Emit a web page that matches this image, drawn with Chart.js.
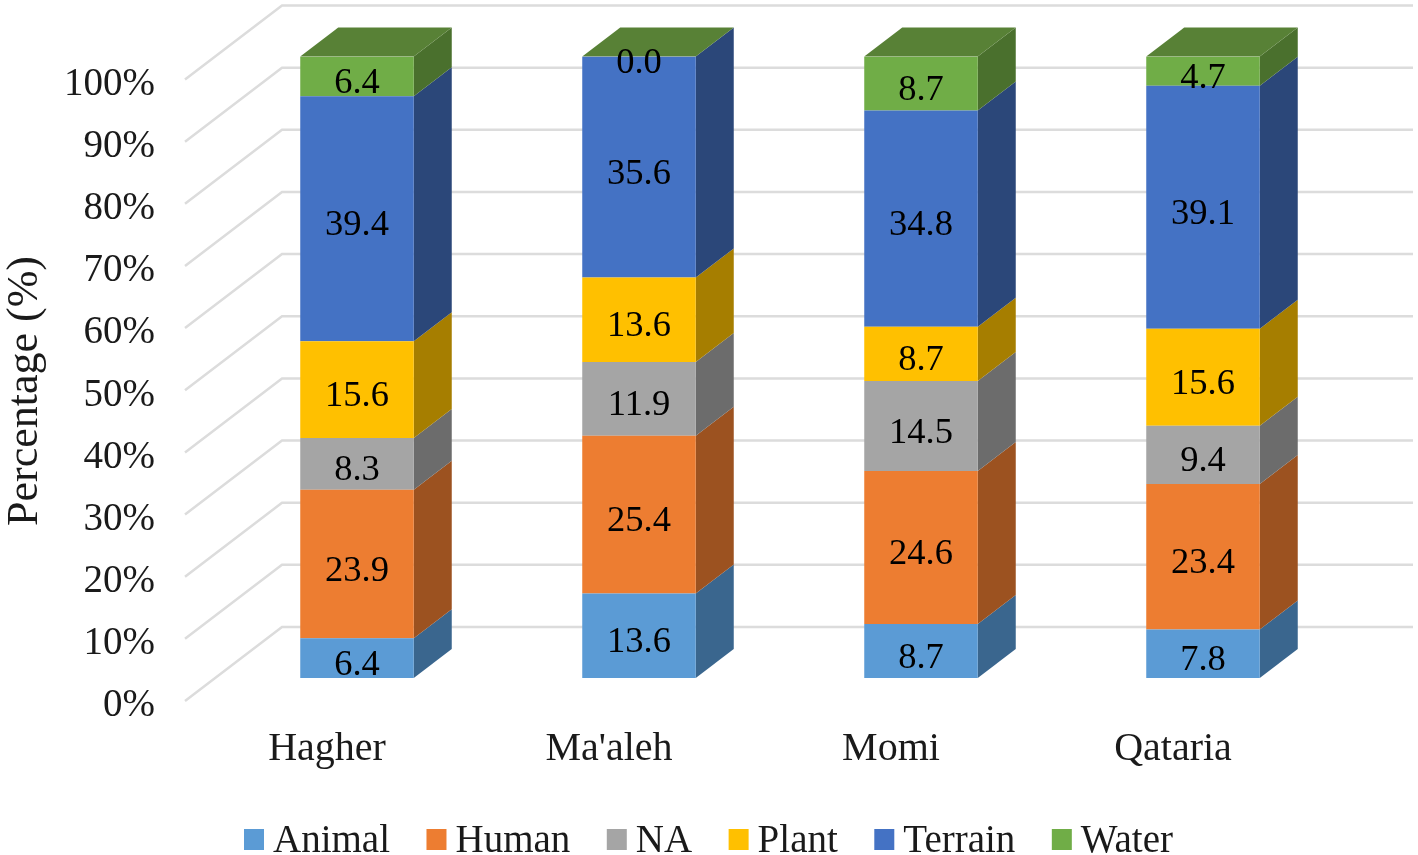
<!DOCTYPE html>
<html>
<head>
<meta charset="utf-8">
<title>Percentage by site</title>
<script src="https://cdn.jsdelivr.net/npm/chart.js@4/dist/chart.umd.min.js"></script>
<style>
  html, body { margin: 0; padding: 0; background: #fff; }
  canvas { display: block; }
</style>
</head>
<body>
<canvas id="chart" width="1418" height="855"></canvas>
<script>
const categories = ['Hagher', "Ma'aleh", 'Momi', 'Qataria'];
const seriesNames = ['Animal', 'Human', 'NA', 'Plant', 'Terrain', 'Water'];
const animal = [6.4, 13.6, 8.7, 7.8];
const human = [23.9, 25.4, 24.6, 23.4];
const na = [8.3, 11.9, 14.5, 9.4];
const plant = [15.6, 13.6, 8.7, 15.6];
const terrain = [39.4, 35.6, 34.8, 39.1];
const water = [6.4, 0.0, 8.7, 4.7];
const yTicks = [0, 10, 20, 30, 40, 50, 60, 70, 80, 90, 100];

const frontColors = ['#5B9BD5', '#ED7D31', '#A5A5A5', '#FFC000', '#4472C4', '#70AD47'];
const sideColors = ['#3A668E', '#9C5220', '#6C6C6C', '#A67E00', '#2B4779', '#4A702D'];
const topColor = '#588136';
const textColor = '#1a1a1a';

const serif = '"Liberation Serif", serif';
const allSeries = [animal, human, na, plant, terrain, water];

// The chart is a 100% stack, so each column is scaled to its own total
const totals = categories.map((c, i) => allSeries.reduce((s, a) => s + a[i], 0));
const datasets = seriesNames.map((name, k) => ({
	label: name,
	data: allSeries[k].map((v, i) => v / totals[i] * 100),
	backgroundColor: frontColors[k],
	borderWidth: 0,
	barPercentage: 0.4025,
	categoryPercentage: 1
}));

// Depth of the fake 3D: column depth, and how far the walls sit from the columns
const depthX = 38, depthY = 29;
const wallInset = 66, wallY = 51;
const floorX = 97, floorY = 74;
const wallRight = 1413;

function poly(ctx, pts, color) {
	ctx.fillStyle = color;
	ctx.beginPath();
	pts.forEach((p, i) => i ? ctx.lineTo(p[0], p[1]) : ctx.moveTo(p[0], p[1]));
	ctx.closePath();
	ctx.fill();
}

const bars3d = {
	id: 'bars3d',
	beforeDatasetsDraw(chart) {
		const { ctx, scales: { x, y } } = chart;
		const wallLeft = x.left + wallInset;

		// Gridlines on the back wall and the diagonal side wall
		ctx.save();
		ctx.strokeStyle = '#DCDCDC';
		ctx.lineWidth = 2.5;
		yTicks.forEach(v => {
			const yb = y.getPixelForValue(v) - wallY;
			ctx.beginPath();
			ctx.moveTo(wallLeft - floorX, yb + floorY);
			ctx.lineTo(wallLeft, yb);
			ctx.lineTo(wallRight, yb);
			ctx.stroke();
		});
		ctx.restore();

		// Side faces of every segment, then the top of each column
		seriesNames.forEach((name, k) => {
			chart.getDatasetMeta(k).data.forEach(bar => {
				const r = bar.x + bar.width / 2;
				poly(ctx, [[r, bar.base], [r + depthX, bar.base - depthY], [r + depthX, bar.y - depthY], [r, bar.y]], sideColors[k]);
			});
		});
		chart.getDatasetMeta(seriesNames.length - 1).data.forEach(bar => {
			const l = bar.x - bar.width / 2, r = bar.x + bar.width / 2;
			poly(ctx, [[l, bar.y], [r, bar.y], [r + depthX, bar.y - depthY], [l + depthX, bar.y - depthY]], topColor);
		});
	},
	afterDatasetsDraw(chart) {
		const { ctx } = chart;
		ctx.save();
		ctx.fillStyle = '#000';
		ctx.font = '36.5px ' + serif;
		ctx.textAlign = 'center';
		ctx.textBaseline = 'middle';
		seriesNames.forEach((name, k) => {
			chart.getDatasetMeta(k).data.forEach((bar, i) => {
				ctx.fillText(allSeries[k][i].toFixed(1), bar.x, (bar.y + bar.base) / 2 + 7);
			});
		});
		ctx.restore();
	},
	afterDraw(chart) {
		const { ctx } = chart;
		ctx.save();

		// Axis title
		ctx.fillStyle = textColor;
		ctx.font = '44px ' + serif;
		ctx.textAlign = 'center';
		ctx.textBaseline = 'middle';
		ctx.translate(25, 391);
		ctx.rotate(-Math.PI / 2);
		ctx.fillText('Percentage (%)', 0, 0);
		ctx.restore();

		// Legend, tighter swatch gap than the built-in one allows
		ctx.save();
		ctx.font = '39px ' + serif;
		ctx.textBaseline = 'middle';
		let lx = 244;
		seriesNames.forEach((name, k) => {
			ctx.fillStyle = frontColors[k];
			ctx.fillRect(lx, 829, 20, 21);
			ctx.fillStyle = textColor;
			ctx.fillText(name, lx + 29, 842);
			lx += 29 + ctx.measureText(name).width + 36.5;
		});
		ctx.restore();
	}
};

new Chart(document.getElementById('chart'), {
	type: 'bar',
	data: { labels: categories, datasets: datasets },
	options: {
		responsive: false,
		animation: false,
		layout: { padding: { top: 56.5, right: 74 } },
		plugins: { legend: { display: false }, tooltip: { enabled: false } },
		scales: {
			x: {
				stacked: true,
				grid: { display: false },
				border: { display: false },
				afterFit(scale) { scale.height = 177; },
				ticks: {
					color: textColor,
					font: { family: serif, size: 40 },
					maxRotation: 0,
					padding: 39,
					labelOffset: -30
				}
			},
			y: {
				stacked: true,
				min: 0,
				max: 100,
				afterFit(scale) { scale.width = 216; },
				grid: { display: false, drawTicks: true, tickLength: 58 },
				border: { display: false },
				ticks: {
					stepSize: 10,
					color: textColor,
					font: { family: serif, size: 39 },
					padding: 3,
					labelOffset: 28,
					callback: v => v + '%'
				}
			}
		}
	},
	plugins: [bars3d]
});
</script>
</body>
</html>
